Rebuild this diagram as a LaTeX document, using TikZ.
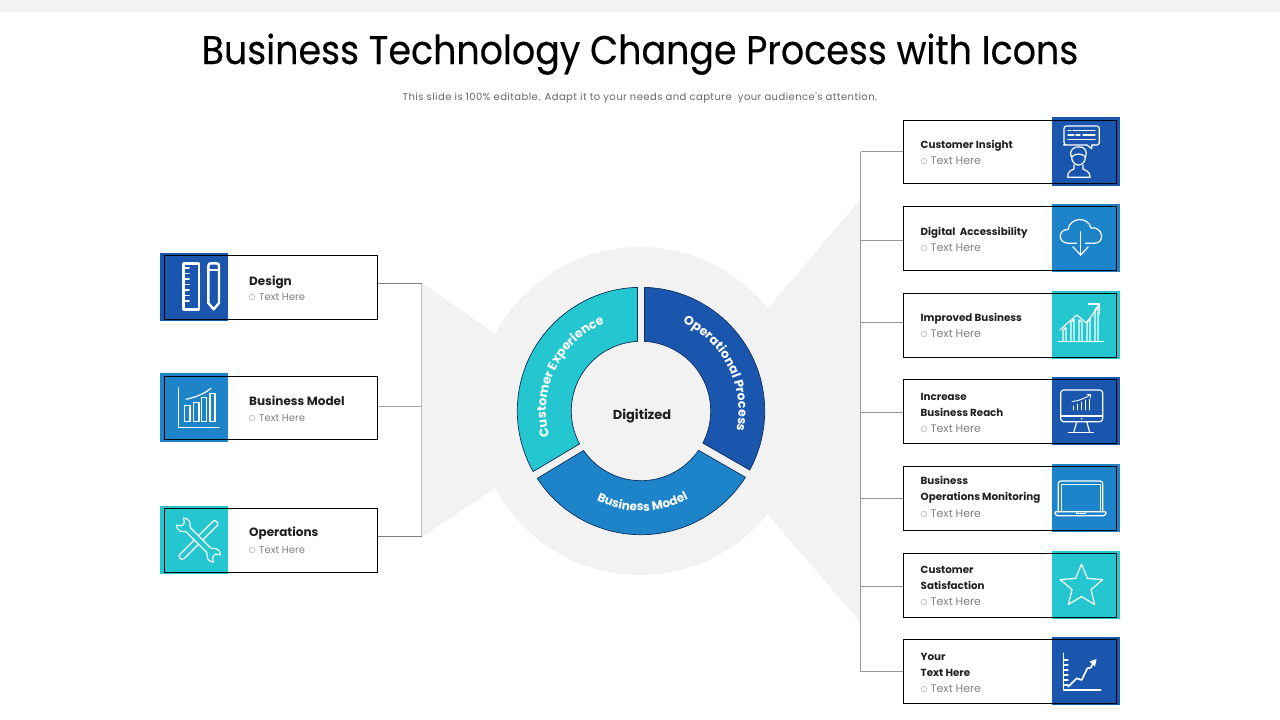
\documentclass[tikz,border=0pt]{standalone}
\usepackage{fontspec}
\setmainfont{Poppins}
\newfontfamily\bulletf{DejaVu Sans}
\newfontfamily\titlef[FakeStretch=0.91,FakeBold=0.35]{Poppins}
\newfontfamily\slidef[LetterSpace=4.4]{Poppins}
\usetikzlibrary{decorations.text}
\definecolor{darkb}{HTML}{1B56AE}
\definecolor{midb}{HTML}{1E84C9}
\definecolor{teal}{HTML}{24C7D0}
\definecolor{pale}{HTML}{F2F2F2}
\definecolor{navy}{HTML}{0E2F5E}
\newcommand{\fs}[2]{\fontsize{#1pt}{#2pt}\selectfont}
\tikzset{
  plate/.style={fill=pale,draw=none},
  ringseg/.style={draw=navy,line width=0.7pt},
  panel/.style={draw=black,line width=1pt,rectangle,inner sep=0pt,outer sep=0pt,anchor=north west},
  tile/.style={draw=none,rectangle,inner sep=0pt,outer sep=0pt,anchor=north west},
  head/.style={anchor=west,inner sep=0pt,align=left,yshift=-1pt,text=black!88,font=\bfseries\fs{#1}{16}},
  head/.default=11,
  subt/.style={anchor=west,inner sep=0pt,yshift=-0.5pt,text=black!50,font=\fs{#1}{12}},
  subt/.default=10,
  wire/.style={draw=black!50,line width=1pt},
  trunk/.style={draw=black!25,line width=1pt},
  ic/.style={draw=white,line width=1.2pt,line join=round,line cap=round},
  icb/.style={draw=white,line width=2.4pt,line join=round,line cap=round},
}
\newcommand{\sub}{\makebox[10pt][l]{\bulletf\fs{7.5}{12}\raisebox{1pt}{○}}Text Here}
\begin{document}
\begin{tikzpicture}[x=1pt,y=-1pt]
\useasboundingbox (0,0) rectangle (1280,720);
\fill[pale] (0,0) rectangle (1280,12);
% grey backdrop
\fill[plate] (640,411) circle[radius=164];
\fill[plate] (422,283) -- (497,335) -- (497,487) -- (422,537) -- cycle;
\fill[plate] (860,200) -- (768,308) -- (768,515) -- (860,622) -- cycle;
% title
\node[inner sep=0pt,anchor=base,text=black,font=\titlef\fs{40}{44}] (title) at (640,64) {Business Technology Change Process with Icons};
\node[inner sep=0pt,text=black!60,font=\slidef\fs{10}{12}] (subtitle) at (640,97.5) {This slide is 100\% editable. Adapt it to your needs and capture\ \ your audience's attention.};
% ring
\begin{scope}[shift={(641,411)},y=1pt]
\filldraw[ringseg,fill=darkb] (88.4:123.7) arc[start angle=88.4,end angle=-28.5,radius=123.7] -- (-27.4:69.7) arc[start angle=-27.4,end angle=87.1,radius=69.7] -- cycle;
\filldraw[ringseg,fill=teal] (91.6:123.7) arc[start angle=91.6,end angle=209.3,radius=123.7] -- (208.2:69.7) arc[start angle=208.2,end angle=92.9,radius=69.7] -- cycle;
\filldraw[ringseg,fill=midb] (213:123.7) arc[start angle=213,end angle=327.6,radius=123.7] -- (325.7:69.7) arc[start angle=325.7,end angle=214.5,radius=69.7] -- cycle;
\path[decorate,decoration={text along path,text align=center,text={|\color{white}\bfseries\fs{12.5}{15}|Customer Experience}}] (214:95) arc[start angle=214,end angle=94,radius=95];
\path[decorate,decoration={text along path,text align=center,text={|\color{white}\bfseries\fs{12.5}{15}|Operational Process}}] (86:97.5) arc[start angle=86,end angle=-33,radius=97.5];
\path[decorate,decoration={text along path,text align=center,text={|\color{white}\bfseries\fs{12}{15}|Business Model}}] (221:100) arc[start angle=221,end angle=321,radius=100];
\end{scope}
\node[inner sep=0pt,text=black!88,font=\bfseries\fs{13}{15}] (digit) at (642,416.5) {Digitized};
% left panels
\node[tile,fill=darkb,minimum width=67.7pt,minimum height=67.7pt] (ltile1) at (160,253) {};
\node[tile,fill=midb,minimum width=67.7pt,minimum height=68.4pt] (ltile2) at (160,373.3) {};
\node[tile,fill=teal,minimum width=67.7pt,minimum height=67.7pt] (ltile3) at (160,506) {};
\node[panel,minimum width=213.4pt,minimum height=64.3pt] (lbox1) at (164.3,255) {};
\node[panel,minimum width=213.4pt,minimum height=63.3pt] (lbox2) at (164.3,376) {};
\node[panel,minimum width=213.4pt,minimum height=64pt] (lbox3) at (164.3,508.3) {};
\node[head=12] (lh1) at (249,281.7) {Design};
\node[subt] (ls1) at (249,296.7) {\sub};
\node[head=12] (lh2) at (249,400) {Business Model};
\node[subt] (ls2) at (249,417.5) {\sub};
\node[head=12] (lh3) at (249,532.7) {Operations};
\node[subt] (ls3) at (249,549.5) {\sub};
% left connectors
\coordinate (ltA) at (421.7,283.5);
\coordinate (ltB) at (421.7,406.7);
\coordinate (ltC) at (421.7,536.7);
\draw[trunk] (ltA) -- (ltC);
\draw[wire] (lbox1.east |- ltA) -- (ltA);
\draw[wire,draw=black!35] (lbox2.east |- ltB) -- (ltB);
\draw[wire] (lbox3.east |- ltC) -- (ltC);
% right tiles
\node[tile,fill=darkb,minimum width=68pt,minimum height=68.7pt] (rtile1) at (1052,117) {};
\node[tile,fill=midb,minimum width=68pt,minimum height=67.7pt] (rtile2) at (1052,204) {};
\node[tile,fill=teal,minimum width=68pt,minimum height=68pt] (rtile3) at (1052,291) {};
\node[tile,fill=darkb,minimum width=68pt,minimum height=67.7pt] (rtile4) at (1052,377) {};
\node[tile,fill=midb,minimum width=68pt,minimum height=67.7pt] (rtile5) at (1052,464) {};
\node[tile,fill=teal,minimum width=68pt,minimum height=67.7pt] (rtile6) at (1052,551.3) {};
\node[tile,fill=darkb,minimum width=68pt,minimum height=67.7pt] (rtile7) at (1052,637) {};
\node[panel,minimum width=213.4pt,minimum height=63.3pt] (rbox1) at (903.3,120) {};
\node[panel,minimum width=213.4pt,minimum height=63.6pt] (rbox2) at (903.3,206.7) {};
\node[panel,minimum width=213.4pt,minimum height=63.7pt] (rbox3) at (903.3,293.3) {};
\node[panel,minimum width=213.4pt,minimum height=64.3pt] (rbox4) at (903.3,379) {};
\node[panel,minimum width=213.4pt,minimum height=63.6pt] (rbox5) at (903.3,466.7) {};
\node[panel,minimum width=213.4pt,minimum height=64pt] (rbox6) at (903.3,553) {};
\node[panel,minimum width=213.4pt,minimum height=63.6pt] (rbox7) at (903.3,639.7) {};
\node[head=10.3] (rh1) at (920.5,144.3) {Customer Insight};
\node[subt=11] (rs1) at (920.5,160.7) {\sub};
\node[head=10.3] (rh2) at (920.5,231.3) {Digital\ \ Accessibility};
\node[subt=11] (rs2) at (920.5,247.5) {\sub};
\node[head=10.3] (rh3) at (920.5,317.3) {Improved Business};
\node[subt=11] (rs3) at (920.5,333.5) {\sub};
\node[head=10.3] (rh4) at (920.5,404) {Increase\\Business Reach};
\node[subt=11] (rs4) at (920.5,428.7) {\sub};
\node[head=10.3] (rh5) at (920.5,489) {Business\\Operations Monitoring};
\node[subt=11] (rs5) at (920.5,513.5) {\sub};
\node[head=10.3] (rh6) at (920.5,576.5) {Customer\\Satisfaction};
\node[subt=11] (rs6) at (920.5,601.3) {\sub};
\node[head=10.3] (rh7) at (920.5,664) {Your\\Text Here};
\node[subt=11] (rs7) at (920.5,688.7) {\sub};
% right connectors
\coordinate (rt1) at (860.7,151.7);
\coordinate (rt2) at (860.7,240.7);
\coordinate (rt3) at (860.7,322.3);
\coordinate (rt4) at (860.7,412.7);
\coordinate (rt5) at (860.7,498.3);
\coordinate (rt6) at (860.7,586.7);
\coordinate (rt7) at (860.7,671.7);
\draw[wire,draw=black!40] (rt1) -- (rt7);
\foreach \i in {1,...,7}{\draw[wire,draw=black!40] (rt\i) -- (rbox\i.west |- rt\i);}
% ---- icons ----
% ruler and pencil
\draw[icb] (183.3,263.3) rectangle (199,309.3);
\foreach \yy in {268,273.5,279,284.5,290,295.5,301}{\draw[icb,line width=1.8pt] (183.3,\yy) -- (189,\yy);}
\draw[icb] (208.3,303) -- (208.3,266) .. controls (208.3,264) and (209.5,263.3) .. (211,263.3) -- (216.3,263.3) .. controls (218,263.3) and (219,264) .. (219,266) -- (219,303) -- (213.7,309.3) -- cycle;
\draw[icb] (208.3,270) -- (219,270);
% bar chart
\draw[ic] (178.3,387.7) -- (178.3,427.7) -- (219,427.7);
\draw[ic] (184.3,405.7) rectangle (190,421.7);
\draw[ic] (193.3,402.3) rectangle (199,421.7);
\draw[ic] (201.7,397.3) rectangle (206.7,421.7);
\draw[ic] (210,393.3) rectangle (215,421.7);
\draw[ic] (186,399.3) .. controls (196,397) and (204,394) .. (211,388.3);
% tools
\begin{scope}[shift={(198.5,540)},y=1pt]
\begin{scope}[rotate=45]
\draw[ic,rounded corners=2.8pt] (-26,-3) rectangle (26,3);
\end{scope}
\begin{scope}[rotate=-45]
\draw[ic,fill=teal] (-14,-3) -- (14,-3) .. controls (17,-3) and (17,-7) .. (21,-7) .. controls (23,-7) and (25,-6.5) .. (26,-5) -- (22,-2) -- (22,2) -- (26,5) .. controls (25,6.5) and (23,7) .. (21,7) .. controls (17,7) and (17,3) .. (14,3) -- (-14,3) .. controls (-17,3) and (-17,7) .. (-21,7) .. controls (-23,7) and (-25,6.5) .. (-26,5) -- (-22,2) -- (-22,-2) -- (-26,-5) .. controls (-25,-6.5) and (-23,-7) .. (-21,-7) .. controls (-17,-7) and (-17,-3) .. (-14,-3) -- cycle;
\end{scope}
\end{scope}
% customer insight
\draw[ic,rounded corners=2.5pt] (1087,145) -- (1066,145) -- (1064,145) -- (1064,126) -- (1099.3,126) -- (1099.3,145) -- (1094,145);
\draw[ic] (1087,145) -- (1091.7,148.7) -- (1091.7,145) -- (1094,145);
\draw[ic] (1068,130.7) -- (1071,130.7) (1073,130.7) -- (1095,130.7);
\draw[ic] (1068,135) -- (1074,135) (1076,135) -- (1080,135) (1083,135) -- (1095,135);
\draw[ic] (1068,139.3) -- (1095,139.3);
\draw[ic] (1071.5,156) .. controls (1071.5,168) and (1085.5,168) .. (1085.5,156);
\draw[ic] (1071.5,157) .. controls (1068,150) and (1075,146) .. (1079,147) .. controls (1084,146) and (1088,151) .. (1085.5,157) .. controls (1082,153) and (1075,153) .. (1071.5,157);
\draw[ic] (1074,165) -- (1074,169) -- (1070,171) .. controls (1068,172) and (1067.7,175) .. (1067.7,177.3) -- (1090,177.3) .. controls (1090,175) and (1089.5,172) .. (1087,171) -- (1083,169) -- (1083,165);
% cloud
\draw[ic] (1069,243.3) .. controls (1057,243.3) and (1058,229) .. (1068,229.5) .. controls (1070,217) and (1088,216) .. (1091,228) .. controls (1103,226) and (1106,243.3) .. (1094,243.3) -- cycle;
\fill[midb] (1077,241) rectangle (1084.5,245);
\draw[ic] (1080.7,231.7) -- (1080.7,255);
\draw[ic] (1072.7,246.7) -- (1080.7,255) -- (1088.3,246.7);
% growth chart
\draw[ic] (1058.3,341.7) -- (1103.3,341.7);
\draw[ic] (1063,341.7) -- (1063,330) -- (1066,327.5) -- (1066,341.7);
\draw[ic] (1071,341.7) -- (1071,322) -- (1074,319.5) -- (1074,341.7);
\draw[ic] (1079,341.7) -- (1079,320) -- (1082,322) -- (1082,341.7);
\draw[ic] (1087,341.7) -- (1087,322) -- (1090,318) -- (1090,341.7);
\draw[ic] (1095,341.7) -- (1095,310) -- (1098,306) -- (1098,341.7);
\draw[ic] (1060,330) -- (1076.7,315) -- (1086.7,323.3) -- (1099.3,304.5);
\draw[ic] (1088.3,304) -- (1099.3,304) -- (1099.3,314);
% monitor
\draw[ic,rounded corners=3pt] (1060.7,390) rectangle (1102.7,421.7);
\draw[ic] (1060.7,416) -- (1102.7,416);
\draw[ic] (1076.7,421.7) -- (1074,431.5) (1086.7,421.7) -- (1089.5,431.5);
\draw[ic] (1068.3,432.3) -- (1093.3,432.3);
\fill[white] (1081.7,418.7) circle[radius=0.9];
\foreach \xx/\yy in {1073/406,1077/404,1081/402,1085/400,1089/399}{\draw[ic,line width=0.9pt] (\xx,410) -- (\xx,\yy);}
\draw[ic,line width=0.9pt] (1072,401.5) .. controls (1078,401) and (1084,399) .. (1090.5,394.5);
\draw[ic,line width=0.9pt] (1087,394.5) -- (1090.5,394.5) -- (1090.5,397.5);
% laptop
\draw[ic,rounded corners=2.5pt] (1058.3,511.7) -- (1058.3,481) -- (1102.7,481) -- (1102.7,511.7);
\draw[ic,line width=0.9pt] (1061,511.7) -- (1061,484.5) -- (1100,484.5) -- (1100,511.7);
\draw[ic,rounded corners=1.5pt] (1054.3,511.7) -- (1106.7,511.7) -- (1105,515.7) -- (1056,515.7) -- cycle;
\draw[ic,line width=0.9pt] (1076.5,511.7) -- (1076.5,513.4) -- (1085,513.4) -- (1085,511.7);
% star
\draw[ic] (1081.5,564.2) -- (1087.4,578.4) -- (1102.7,579.6) -- (1091,589.6) -- (1094.6,604.5) -- (1081.5,596.5) -- (1068.4,604.5) -- (1072,589.6) -- (1060.3,579.6) -- (1075.6,578.4) -- cycle;
% last chart
\draw[icb,line width=1.6pt] (1063.3,653.3) -- (1063.3,690) -- (1100.7,690);
\foreach \yy in {660,665,670,675,680,685}{\draw[ic] (1063.3,\yy) -- (1068,\yy);}
\draw[ic,line width=1.6pt] (1068.3,686.7) -- (1076.7,678.3) -- (1081.7,680) -- (1087.3,668.3) -- (1090.7,667.7) -- (1094,662);
\fill[white] (1096.5,659) -- (1089.5,661.5) -- (1095,666.5) -- cycle;
\end{tikzpicture}
\end{document}
